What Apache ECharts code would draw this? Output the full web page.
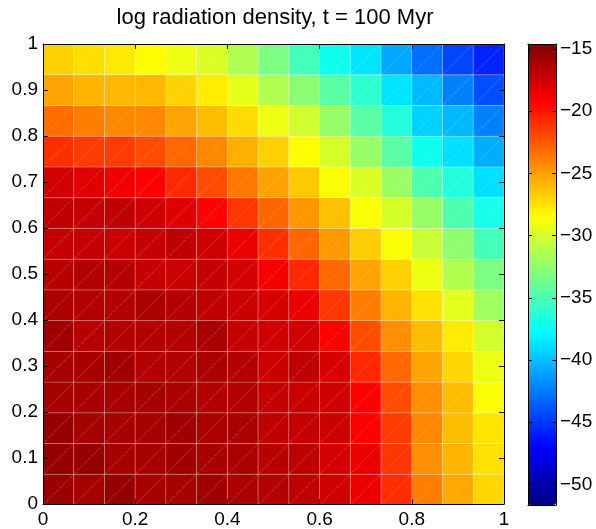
<!DOCTYPE html>
<html lang="en">
<head>
<meta charset="UTF-8">
<title>log radiation density</title>
<style>html,body{margin:0;padding:0;background:#fff}</style>
</head>
<body>
<div id="main" style="width: 596px;height: 529px"></div>
<script src="https://cdn.jsdelivr.net/npm/echarts@6/dist/echarts.min.js"></script>
<script>
// 15 x 15 cells on the unit square, cell centres
var xCells = ['0.033', '0.100', '0.167', '0.233', '0.300', '0.367', '0.433', '0.500', '0.567', '0.633', '0.700', '0.767', '0.833', '0.900', '0.967'];
var yCells = ['0.033', '0.100', '0.167', '0.233', '0.300', '0.367', '0.433', '0.500', '0.567', '0.633', '0.700', '0.767', '0.833', '0.900', '0.967'];

// log radiation density, one row per y cell (bottom -> top)
var row00 = [-15.6, -16.0, -15.4, -16.1, -16.0, -15.8, -16.2, -16.5, -16.9, -17.5, -18.5, -20.9, -23.8, -25.4, -27.0];
var row01 = [-15.4, -15.4, -16.0, -16.1, -15.8, -16.1, -16.2, -16.7, -16.9, -17.6, -18.5, -21.2, -24.4, -25.8, -27.4];
var row02 = [-15.4, -16.0, -16.1, -16.0, -15.8, -16.2, -16.2, -16.9, -17.1, -17.3, -19.2, -21.4, -24.2, -26.1, -27.6];
var row03 = [-16.0, -16.1, -16.1, -16.0, -16.2, -16.5, -16.5, -17.1, -17.3, -17.5, -19.2, -22.0, -24.4, -26.1, -28.6];
var row04 = [-16.0, -16.1, -15.8, -16.5, -16.5, -16.2, -16.5, -17.3, -16.9, -17.8, -20.7, -23.0, -25.2, -27.0, -29.2];
var row05 = [-15.8, -16.7, -16.5, -16.5, -16.5, -16.2, -17.1, -17.5, -17.6, -19.2, -22.0, -24.4, -26.1, -27.8, -30.1];
var row06 = [-16.2, -16.5, -16.5, -16.2, -16.5, -16.9, -17.3, -17.8, -18.5, -21.2, -23.8, -25.8, -27.4, -29.5, -31.9];
var row07 = [-16.7, -16.5, -16.5, -17.1, -17.3, -17.1, -17.6, -18.9, -20.7, -23.0, -25.2, -26.8, -29.1, -31.3, -33.2];
var row08 = [-17.1, -17.1, -17.3, -17.1, -16.9, -17.5, -18.5, -20.9, -22.9, -24.8, -26.7, -28.6, -30.5, -32.5, -35.3];
var row09 = [-16.9, -17.1, -16.9, -17.5, -18.1, -19.3, -21.2, -22.9, -24.7, -26.2, -28.6, -30.0, -32.3, -34.9, -37.0];
var row10 = [-17.6, -18.1, -18.7, -19.2, -20.7, -22.0, -23.6, -25.1, -26.5, -28.6, -29.8, -32.1, -34.9, -36.5, -38.9];
var row11 = [-20.9, -21.4, -21.4, -22.0, -23.0, -24.2, -25.6, -26.8, -28.5, -30.0, -32.3, -34.5, -37.2, -38.9, -40.7];
var row12 = [-23.2, -23.8, -24.2, -24.2, -25.2, -26.1, -27.2, -29.1, -30.2, -32.3, -34.5, -36.5, -39.4, -40.3, -42.3];
var row13 = [-25.2, -25.8, -25.9, -25.9, -26.9, -27.8, -29.4, -31.3, -32.7, -34.5, -36.1, -38.7, -40.3, -42.3, -44.2];
var row14 = [-26.8, -27.3, -27.7, -28.4, -29.1, -29.8, -31.4, -33.2, -35.3, -37.2, -38.7, -40.9, -43.0, -44.5, -45.8];
var rows = [row00, row01, row02, row03, row04, row05, row06, row07, row08, row09, row10, row11, row12, row13, row14];

// colour scale
var cMin = -51.66;
var cMax = -14.6;
var cbTicks = [-50, -45, -40, -35, -30, -25, -20, -15];
var jet = ['#00007f', '#0000ff', '#007fff', '#00ffff', '#7fff7f', '#ffff00', '#ff7f00', '#ff0000', '#7f0000'];

var data = [];
for (var j = 0; j < rows.length; j++) {
  for (var i = 0; i < rows[j].length; i++) {
    data.push([i, j, rows[j][i]]);
  }
}

var font = 'Liberation Sans, Helvetica, Arial, sans-serif';
var lbl = {color: '#000', fontSize: 19, fontFamily: font};

function renderCell(params, api) {
  var c = api.coord([api.value(0), api.value(1)]);
  var s = api.size([1, 1]);
  var x = c[0] - s[0] / 2, y = c[1] - s[1] / 2;
  return {
    type: 'group',
    children: [
      {type: 'rect', shape: {x: x, y: y, width: s[0], height: s[1]},
        style: {fill: api.visual('color'), stroke: 'rgba(255,255,255,0.2)', lineWidth: 1}},
      {type: 'line', shape: {x1: x, y1: y + s[1], x2: x + s[0], y2: y},
        style: {stroke: 'rgba(255,255,255,0.35)', lineWidth: 1, lineDash: [1, 1]}}
    ]
  };
}

function minus(v) { return String(v).replace('-', '\u2212'); }

function frameAxis(grid, pos, extra) {
  var a = {
    type: 'value', gridIndex: grid, position: pos, z: 5,
    axisLine: {show: true, onZero: false, lineStyle: {color: '#000', width: 1}},
    axisTick: {show: false}, axisLabel: {show: false}, splitLine: {show: false}
  };
  for (var k in extra) a[k] = extra[k];
  return a;
}

var option = {
  backgroundColor: '#fff',
  animation: false,
  graphic: [{
    type: 'text', x: 275, y: 7,
    style: {
      text: 'log radiation density, t = 100 Myr',
      textAlign: 'center', textVerticalAlign: 'top',
      fill: '#000', fontSize: 22, fontFamily: font
    }
  }],
  grid: [
    {left: 43, top: 44, width: 461, height: 461},
    {left: 43, top: 44, width: 461, height: 461},
    {left: 528, top: 44, width: 28, height: 461}
  ],
  visualMap: {
    type: 'continuous', min: cMin, max: cMax, seriesIndex: 0, dimension: 2,
    calculable: false, hoverLink: false, left: 528, top: 44, padding: 0,
    itemWidth: 28, itemHeight: 461, inRange: {color: jet}
  },
  xAxis: [
    {type: 'category', gridIndex: 0, data: xCells, show: false},
    frameAxis(1, 'bottom', {min: 0, max: 1, interval: 0.2,
      axisTick: {show: true, inside: true, length: 5, lineStyle: {color: '#000'}},
      axisLabel: {show: true, margin: 6, color: lbl.color, fontSize: lbl.fontSize, fontFamily: font}}),
    frameAxis(1, 'top', {min: 0, max: 1, interval: 0.2,
      axisTick: {show: true, inside: true, length: 5, lineStyle: {color: '#000'}}}),
    frameAxis(2, 'bottom', {min: 0, max: 1}),
    frameAxis(2, 'top', {min: 0, max: 1})
  ],
  yAxis: [
    {type: 'category', gridIndex: 0, data: yCells, show: false},
    frameAxis(1, 'left', {min: 0, max: 1, interval: 0.1,
      axisTick: {show: true, inside: true, length: 5, lineStyle: {color: '#000'}},
      axisLabel: {show: true, margin: 5, color: lbl.color, fontSize: lbl.fontSize, fontFamily: font}}),
    frameAxis(1, 'right', {min: 0, max: 1, interval: 0.1,
      axisTick: {show: true, inside: true, length: 5, lineStyle: {color: '#000'}}}),
    frameAxis(2, 'right', {min: cMin, max: cMax,
      axisTick: {show: true, inside: true, length: 4, customValues: cbTicks, lineStyle: {color: '#000'}},
      axisLabel: {show: true, margin: 4, customValues: cbTicks, formatter: minus,
        color: lbl.color, fontSize: lbl.fontSize, fontFamily: font}}),
    frameAxis(2, 'left', {min: cMin, max: cMax,
      axisTick: {show: true, inside: true, length: 4, customValues: cbTicks, lineStyle: {color: '#000'}}})
  ],
  series: [{
    type: 'custom',
    xAxisIndex: 0, yAxisIndex: 0,
    renderItem: renderCell,
    encode: {x: 0, y: 1},
    data: data
  }]
};

var myChart = echarts.init(document.getElementById('main'));
myChart.setOption(option);
</script>
</body>
</html>
